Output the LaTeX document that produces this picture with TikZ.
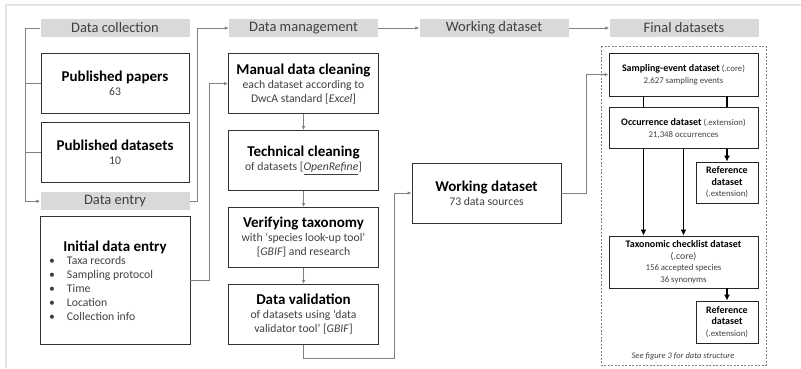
\documentclass[tikz,border=0pt]{standalone}
\usepackage{fontspec}
\setmainfont{Carlito}
\usetikzlibrary{positioning,arrows.meta}
\definecolor{headGray}{HTML}{D9D9D9}
\definecolor{lineGray}{HTML}{808080}
\definecolor{boxGray}{HTML}{333333}
\definecolor{textGray}{HTML}{404040}
\definecolor{frameGray}{HTML}{E4E4E4}
\newcommand{\boxtitle}[1]{{\color{black}\fontsize{15}{17}\selectfont\bfseries #1}}
\newcommand{\smalltitle}[1]{{\color{black}\fontsize{10}{11.5}\selectfont\bfseries #1}}
\newcommand{\bulletitem}[1]{\makebox[18pt][l]{\textbullet}#1}

\begin{document}
\begin{tikzpicture}[x=1pt, y=-1pt,
    phase/.style={fill=headGray, minimum width=149pt, minimum height=18pt, inner sep=0pt, text=textGray, font=\fontsize{14.5}{16}\selectfont},
    stage/.style={draw=boxGray, line width=0.9pt, minimum width=150pt, minimum height=60pt, align=center, inner sep=2pt, text=textGray, font=\fontsize{11.7}{14}\selectfont},
    final/.style={draw=black!85, line width=0.9pt, minimum width=149pt, align=center, inner sep=1pt, text=textGray, font=\fontsize{8.8}{11.5}\selectfont},
    link/.style={draw=lineGray, line width=0.8pt},
    flow/.style={link, -{Latex[length=4pt,width=3.5pt]}},
    heavy/.style={line width=1.8pt},
    heavyflow/.style={heavy, -{Latex[length=6pt,width=6pt]}}]
    \useasboundingbox (0,0) rectangle (801,368);
    \draw[frameGray, line width=1.5pt] (801,5) -- (6,5) -- (6,368);

    \node[phase] (colhead) at (115,28) {Data collection};
    \node[phase] (mgmthead) at (303.5,28) {Data management};
    \node[phase] (workhead) at (494,28) {Working dataset};
    \node[phase] (finalhead) at (684,28) {Final datasets};

    \node[stage, minimum width=148pt, below=16pt of colhead] (papers) {\boxtitle{Published papers}\\ 63};
    \node[stage, minimum width=148pt, below=8pt of papers] (datasets) {\boxtitle{Published datasets}\\ 10};
    \node[phase, below=9pt of datasets] (entryhead) {Data entry};
    \node[stage, minimum height=128pt, below=6pt of entryhead] (initial) {\boxtitle{Initial data entry}\\[1pt]
        \parbox{132pt}{\baselineskip=14pt\bulletitem{Taxa records}\\ \bulletitem{Sampling protocol}\\ \bulletitem{Time}\\ \bulletitem{Location}\\ \bulletitem{Collection info}}};

    \node[stage, below=16pt of mgmthead] (manual) {\boxtitle{Manual data cleaning}\\ each dataset according to\\ DwcA standard [\textit{Excel}]};
    \node[stage, below=16pt of manual] (tech) {\boxtitle{Technical cleaning}\\ of datasets [\underline{\textit{OpenRefine}}]};
    \node[stage, below=16pt of tech] (verify) {\boxtitle{Verifying taxonomy}\\ with ‘species look-up tool’\\ {[\textit{GBIF}]} and research};
    \node[stage, below=16pt of verify] (valid) {\boxtitle{Data validation}\\ of datasets using ‘data\\ validator tool’ [\textit{GBIF}]};

    \node[stage, minimum width=149pt] (working) at (486.5,193) {\boxtitle{Working dataset}\\ 73 data sources};

    \node[final, minimum height=43pt] (samp) at (683.5,74.5) {\smalltitle{Sampling-event dataset} (.core)\\ 2,627 sampling events};
    \node[final, minimum height=41pt, below=11pt of samp] (occ) {\smalltitle{Occurrence dataset} (.extension)\\ 21,348 occurrences};
    \node[final, minimum width=62pt, minimum height=41pt] (ref1) at (727,182.5) {\smalltitle{Reference}\\ \smalltitle{dataset}\\ (.extension)};
    \node[final, minimum height=52pt] (tax) at (683.5,262) {\smalltitle{Taxonomic checklist dataset}\\ {\fontsize{9.8}{11}\selectfont(.core)}\\ 156 accepted species\\ 36 synonyms};
    \node[final, minimum width=62pt, minimum height=42pt] (ref2) at (727,322) {\smalltitle{Reference}\\ \smalltitle{dataset}\\ (.extension)};
    \node[text=textGray, font=\fontsize{8.5}{10}\selectfont\itshape] (note) at (683,356) {See figure 3 for data structure};
    \draw[lineGray, line width=0.9pt, dash pattern=on 2pt off 1.5pt] (601,46) rectangle (766,365);

    \draw[flow] (colhead.west) -- ++(-14.5,0) |- (entryhead.west);
    \draw[link] (papers.west) -- ++(-15,0);
    \draw[link] (datasets.west) -- ++(-15,0);
    \draw[flow] (entryhead.east) -- ++(8,0) |- (mgmthead.west);
    \draw[flow] (initial.east) -- ++(19,0) |- (manual.west);
    \draw[flow] (mgmthead) -- (workhead);
    \draw[flow] (workhead) -- (finalhead);
    \draw[flow] (manual) -- (tech);
    \draw[flow] (tech) -- (verify);
    \draw[flow] (verify) -- (valid);
    \draw[flow] (valid.south) |- ++(91,14) |- (working.west);
    \draw[flow] (working.east) -- ++(25,0) |- (samp.west);

    \draw[heavy] ([xshift=-40pt]samp.south) -- ([xshift=-40pt]occ.north);
    \draw[heavy] (samp.south -| ref1.north) -- (occ.north -| ref1.north);
    \draw[heavyflow] (occ.south -| ref1.north) -- (ref1.north);
    \draw[heavyflow] ([xshift=-40pt]occ.south) -- ([xshift=-40pt]tax.north);
    \draw[heavyflow] (occ.south) -- (tax.north);
    \draw[heavyflow] (tax.south -| ref2.north) -- (ref2.north);
\end{tikzpicture}
\end{document}
